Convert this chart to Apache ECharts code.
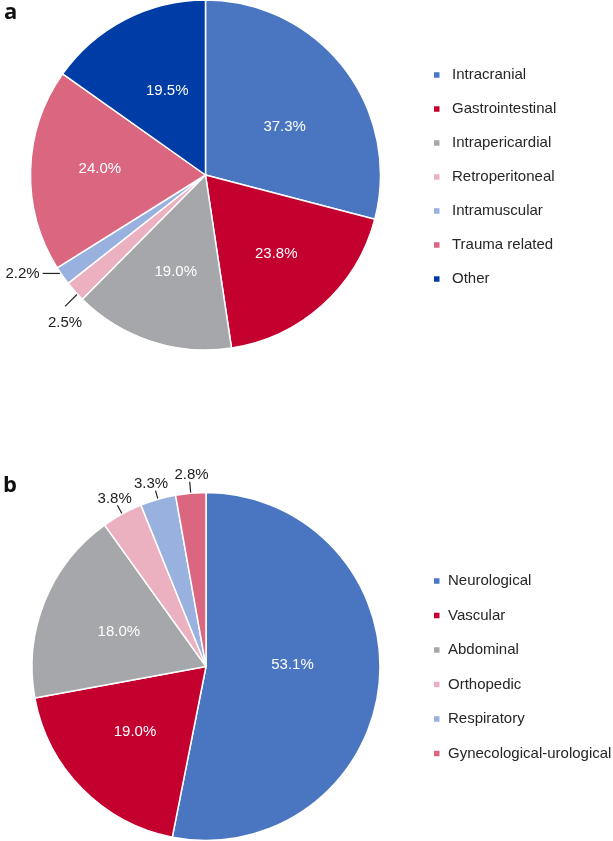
<!DOCTYPE html>
<html>
<head>
<meta charset="utf-8">
<script src="https://cdn.jsdelivr.net/npm/echarts@6/dist/echarts.min.js"></script>
<style>
html,body{margin:0;padding:0;background:#fff;}
#chart{width:613px;height:841px;}
</style>
</head>
<body>
<div id="chart"></div>
<script>
// Panel a
var categoriesA = ['Intracranial','Gastrointestinal','Intrapericardial','Retroperitoneal','Intramuscular','Trauma related','Other'];
var valuesA = [37.3, 23.8, 19.0, 2.5, 2.2, 24.0, 19.5];
var colorsA = ['#4a76c1','#c4002f','#a6a7ab','#ebb1c0','#99b1de','#db6680','#003ca6'];
// Panel b
var categoriesB = ['Neurological','Vascular','Abdominal','Orthopedic','Respiratory','Gynecological-urological'];
var valuesB = [53.1, 19.0, 18.0, 3.8, 3.3, 2.8];
var colorsB = ['#4a76c1','#c4002f','#a6a7ab','#ebb1c0','#99b1de','#db6680'];

var FONT = '"Liberation Sans", Arial, sans-serif';

// ---- style settings (not data) ----
var CENTER_A = [205.5, 175], R_A = 175;
var CENTER_B = [206, 666.5], R_B = 174;
// inside labels: [radius factor, angle shift in degrees]
var insideA = { 0: [0.53, 6.3], 1: [0.605, 0], 2: [0.578, -1], 5: [0.605, 1.8], 6: [0.53, 3] };
var insideB = { 0: [0.497, -6.6], 1: [0.555, 2], 2: [0.54, 0] };
// outside labels
var outsideA = {
  3: { mode: 'below', shift: [5, 0], dir: [-15, 15], out: 21, tdx: 0, tdy: 9.5 },
  4: { mode: 'side', inward: 4, out: 23, tdx: -3 }
};
var outsideB = {
  3: { mode: 'above', inward: 4, out: 10, tdx: -2.7, tdy: 1 },
  4: { mode: 'above', inward: 5.5, out: 9, tdx: -4.5, tdy: 1 },
  5: { mode: 'above', inward: 2.5, out: 11.5, tdx: 1.8, tdy: 1 }
};

function buildData(cats, vals, outsideCfg) {
  return cats.map(function (c, i) {
    var item = { name: c, value: vals[i] };
    if (outsideCfg[i]) {
      item.label = { position: 'outside', color: '#222', fontSize: 15, fontFamily: FONT, distanceToLabelLine: 3 };
      item.labelLine = { show: true, length: 10, length2: 0, lineStyle: { color: '#222', width: 1.2 } };
    }
    return item;
  });
}

function makeLayout(center, r, insideCfg, outsideCfg) {
  return function (params) {
    var i = params.dataIndex;
    var rect = params.labelRect;
    if (insideCfg[i]) {
      var cx = rect.x + rect.width / 2, cy = rect.y + rect.height / 2;
      var th = Math.atan2(cx - center[0], -(cy - center[1])) + insideCfg[i][1] * Math.PI / 180;
      var rr = insideCfg[i][0] * r;
      return { x: center[0] + rr * Math.sin(th), y: center[1] - rr * Math.cos(th), align: 'center', verticalAlign: 'middle' };
    }
    var cfg = outsideCfg[i];
    if (!cfg || !params.labelLinePoints) return {};
    var p = params.labelLinePoints;
    var rdx = p[0][0] - center[0], rdy = p[0][1] - center[1];
    var rl = Math.sqrt(rdx * rdx + rdy * rdy) || 1;
    var ux = rdx / rl, uy = rdy / rl;
    var s;
    if (cfg.shift) {
      s = [p[0][0] + cfg.shift[0], p[0][1] + cfg.shift[1]];
    } else {
      s = [p[0][0] - ux * cfg.inward, p[0][1] - uy * cfg.inward];
    }
    var e;
    if (cfg.mode === 'side') {
      e = [s[0] - cfg.out, s[1]];
      return { x: e[0] + cfg.tdx, y: e[1], align: 'right', verticalAlign: 'middle', labelLinePoints: [s, e, e] };
    }
    var d = cfg.dir || [ux, uy];
    var dl = Math.sqrt(d[0] * d[0] + d[1] * d[1]) || 1;
    var eOut = cfg.shift ? cfg.out : cfg.inward + cfg.out;
    e = [s[0] + d[0] / dl * eOut, s[1] + d[1] / dl * eOut];
    return {
      x: e[0] + cfg.tdx,
      y: e[1] + cfg.tdy,
      align: 'center',
      verticalAlign: cfg.mode === 'below' ? 'top' : 'bottom',
      labelLinePoints: [s, e, e]
    };
  };
}

function pieSeries(cats, vals, colors, outsideCfg, insideCfg, center, radius) {
  return {
    type: 'pie',
    center: center,
    radius: radius,
    startAngle: 90,
    clockwise: true,
    avoidLabelOverlap: false,
    color: colors,
    itemStyle: { borderColor: '#ffffff', borderWidth: 1.5 },
    label: {
      show: true,
      position: 'inside',
      color: '#ffffff',
      fontSize: 15,
      fontFamily: FONT,
      formatter: function (p) { return p.value.toFixed(1) + '%'; }
    },
    labelLine: { show: false },
    labelLayout: makeLayout(center, radius, insideCfg, outsideCfg),
    emphasis: { disabled: true },
    data: buildData(cats, vals, outsideCfg)
  };
}

var chart = echarts.init(document.getElementById('chart'), null, { renderer: 'canvas' });
chart.setOption({
  animation: false,
  backgroundColor: '#ffffff',
  title: [
    { text: 'a', left: 4, top: 2, padding: 0, textStyle: { fontSize: 22, fontWeight: 'bold', color: '#111', fontFamily: '"Open Sans", sans-serif' } },
    { text: 'b', left: 3, top: 475, padding: 0, textStyle: { fontSize: 22, fontWeight: 'bold', color: '#111', fontFamily: '"Open Sans", sans-serif' } }
  ],
  legend: [
    {
      data: categoriesA,
      orient: 'vertical',
      left: 427,
      top: 62.5,
      itemWidth: 7.5,
      itemHeight: 7.5,
      itemGap: 19,
      icon: 'rect',
      selectedMode: false,
      textStyle: { fontSize: 15, color: '#262626', fontFamily: FONT, padding: [0, 0, 0, 6.5] }
    },
    {
      data: categoriesB,
      orient: 'vertical',
      left: 427,
      top: 568.5,
      itemWidth: 7.5,
      itemHeight: 7.5,
      itemGap: 19.5,
      icon: 'rect',
      selectedMode: false,
      textStyle: { fontSize: 15, color: '#262626', fontFamily: FONT, padding: [0, 0, 0, 2.5] }
    }
  ],
  series: [
    pieSeries(categoriesA, valuesA, colorsA, outsideA, insideA, CENTER_A, R_A),
    pieSeries(categoriesB, valuesB, colorsB, outsideB, insideB, CENTER_B, R_B)
  ]
});
</script>
</body>
</html>
